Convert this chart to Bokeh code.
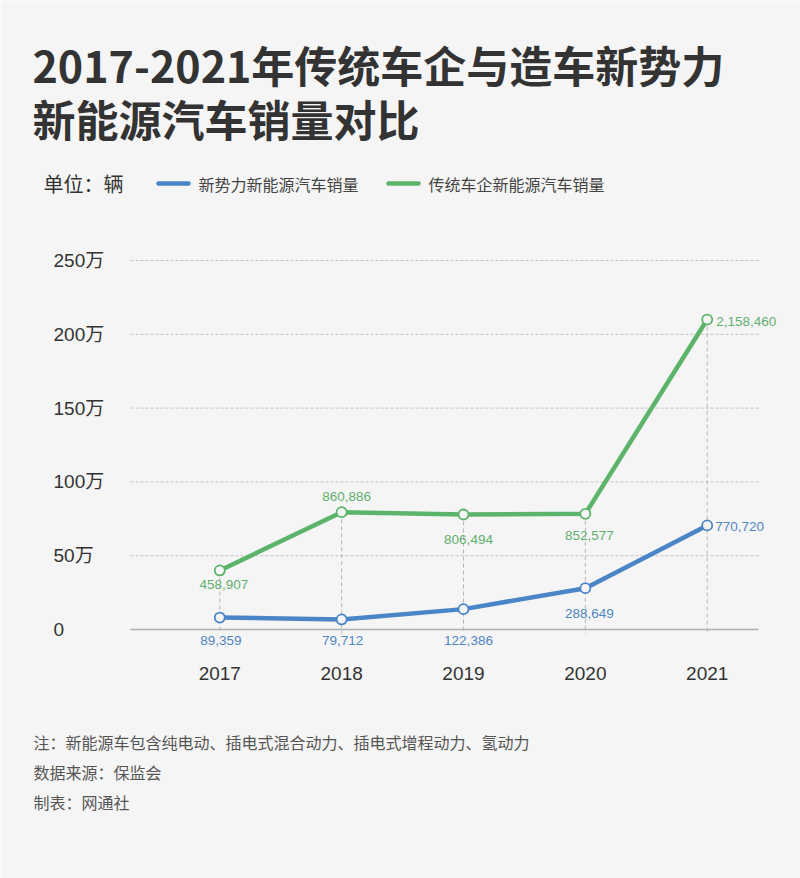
from bokeh.plotting import figure
from bokeh.models import Range1d, Label, ColumnDataSource
from bokeh.core.properties import value
from bokeh.embed import file_html
from bokeh.resources import INLINE

# ---------------- data ----------------
years = [2017, 2018, 2019, 2020, 2021]
# plotted values (read from the drawn points, in 辆)
new_forces = [81000, 68000, 138000, 280000, 705000]
traditional = [400000, 795000, 779000, 784000, 2100000]
# value labels as printed on the chart
new_forces_labels = ["89,359", "79,712", "122,386", "288,649", "770,720"]
traditional_labels = ["458,907", "860,886", "806,494", "852,577", "2,158,460"]
y_ticks = [0, 500000, 1000000, 1500000, 2000000, 2500000]
y_tick_labels = ["0", "50万", "100万", "150万", "200万", "250万"]
series_names = ["新势力新能源汽车销量", "传统车企新能源汽车销量"]
title_lines = ["2017-2021年传统车企与造车新势力", "新能源汽车销量对比"]
unit_text = "单位：辆"
notes = ["注：新能源车包含纯电动、插电式混合动力、插电式增程动力、氢动力",
         "数据来源：保监会",
         "制表：网通社"]

# ---------------- layout (pixel geometry) ----------------
W, H = 800, 878
BG = "#f5f5f5"
BLUE = "#4a85c7"
GREEN = "#5cb46a"
BLUE_TXT = "#4f86c2"
GREEN_TXT = "#62b06f"
FONT = "'Noto Sans CJK SC', 'Noto Sans', sans-serif"
NUMFONT = "'Liberation Sans', Arial, 'Noto Sans CJK SC', sans-serif"

x0_px, x_step_px = 219.3, 121.85           # pixel of first year, pixel per year
y0_px, y_step_px, y_step_val = 629.0, 73.8, 500000.0

def px_to_x(px):
    return years[0] + (px - x0_px) / x_step_px

def py_to_y(py):
    return (y0_px - py) / y_step_px * y_step_val

p = figure(width=W, height=H, output_backend="svg", toolbar_location=None,
           x_range=Range1d(px_to_x(0), px_to_x(W)),
           y_range=Range1d(py_to_y(H), py_to_y(0)),
           min_border=0, min_border_left=0, min_border_right=0,
           min_border_top=0, min_border_bottom=0)
p.axis.visible = False
p.grid.visible = False
p.outline_line_color = None
p.background_fill_color = BG
p.border_fill_color = BG

gx0, gx1 = px_to_x(130), px_to_x(758)

# horizontal grid lines (dashed) and base axis
grid_vals = y_ticks[1:]
p.segment(x0=[gx0] * len(grid_vals), x1=[gx1] * len(grid_vals), y0=grid_vals, y1=grid_vals,
          line_color="#c4c4c4", line_width=1, line_dash="3 2")
p.segment(x0=[gx0], x1=[gx1], y0=[0], y1=[0], line_color="#b0b0b0", line_width=1.5)

# vertical dashed drop lines from the top point to just below the axis
tops = [max(a, b) for a, b in zip(new_forces, traditional)]
p.segment(x0=years, x1=years, y0=tops, y1=[py_to_y(633)] * len(years),
          line_color="#b5b5b5", line_width=1, line_dash="4 3")

# y tick labels (left aligned)
p.text(x=[px_to_x(53)] * len(y_ticks), y=y_ticks, text=y_tick_labels,
       text_font=value(NUMFONT), text_font_size="19px", text_color="#333333",
       text_align="left", text_baseline="middle")

# year labels
p.text(x=years, y=[py_to_y(673)] * len(years), text=[str(y) for y in years],
       text_font=value(NUMFONT), text_font_size="19px", text_color="#333333",
       text_align="center", text_baseline="middle")

# lines
p.line(years, traditional, line_color=GREEN, line_width=4.5, line_join="round")
p.line(years, new_forces, line_color=BLUE, line_width=4.5, line_join="round")
p.scatter(years, traditional, size=10, fill_color=BG, line_color=GREEN, line_width=1.8)
p.scatter(years, new_forces, size=10, fill_color=BG, line_color=BLUE, line_width=1.8)

# value labels
g_src = ColumnDataSource(dict(x=years, y=traditional, t=traditional_labels,
                              xo=[4, 5, 5, 4, 9], yo=[14, -16, 25, 22, 2],
                              al=["center", "center", "center", "center", "left"]))
b_src = ColumnDataSource(dict(x=years, y=new_forces, t=new_forces_labels,
                              xo=[1, 1, 5, 4, 8], yo=[23, 21, 31, 25, 1],
                              al=["center", "center", "center", "center", "left"]))
for src, col in ((g_src, GREEN_TXT), (b_src, BLUE_TXT)):
    p.text(x="x", y="y", text="t", x_offset="xo", y_offset="yo", text_align="al",
           source=src, text_font=value(NUMFONT), text_font_size="13.5px",
           text_color=col, text_baseline="middle")

# title
for i, line in enumerate(title_lines):
    p.add_layout(Label(x=32, y=H - (63 + i * 54), x_units="screen", y_units="screen",
                       text=line, text_font=FONT, text_font_size="43px",
                       text_font_style="bold", text_color="#333333",
                       text_baseline="middle", text_align="left"))

# unit + legend
p.add_layout(Label(x=43, y=H - 183, x_units="screen", y_units="screen", text=unit_text,
                   text_font=FONT, text_font_size="20px", text_color="#333333",
                   text_baseline="middle"))
legend_cols = [BLUE, GREEN]
legend_x = [158, 388]
for name, col, lx in zip(series_names, legend_cols, legend_x):
    p.segment(x0=[px_to_x(lx)], x1=[px_to_x(lx + 30)], y0=[py_to_y(183)], y1=[py_to_y(183)],
              line_color=col, line_width=4.5, line_cap="round")
    p.add_layout(Label(x=lx + 40, y=H - 183, x_units="screen", y_units="screen", text=name,
                       text_font=FONT, text_font_size="16px", text_color="#444444",
                       text_baseline="middle"))

# notes
for i, n in enumerate(notes):
    p.add_layout(Label(x=33, y=H - (741 + i * 30), x_units="screen", y_units="screen", text=n,
                       text_font=FONT, text_font_size="16px", text_color="#555555",
                       text_baseline="middle"))

open("out.html", "w").write(file_html(p, INLINE))
